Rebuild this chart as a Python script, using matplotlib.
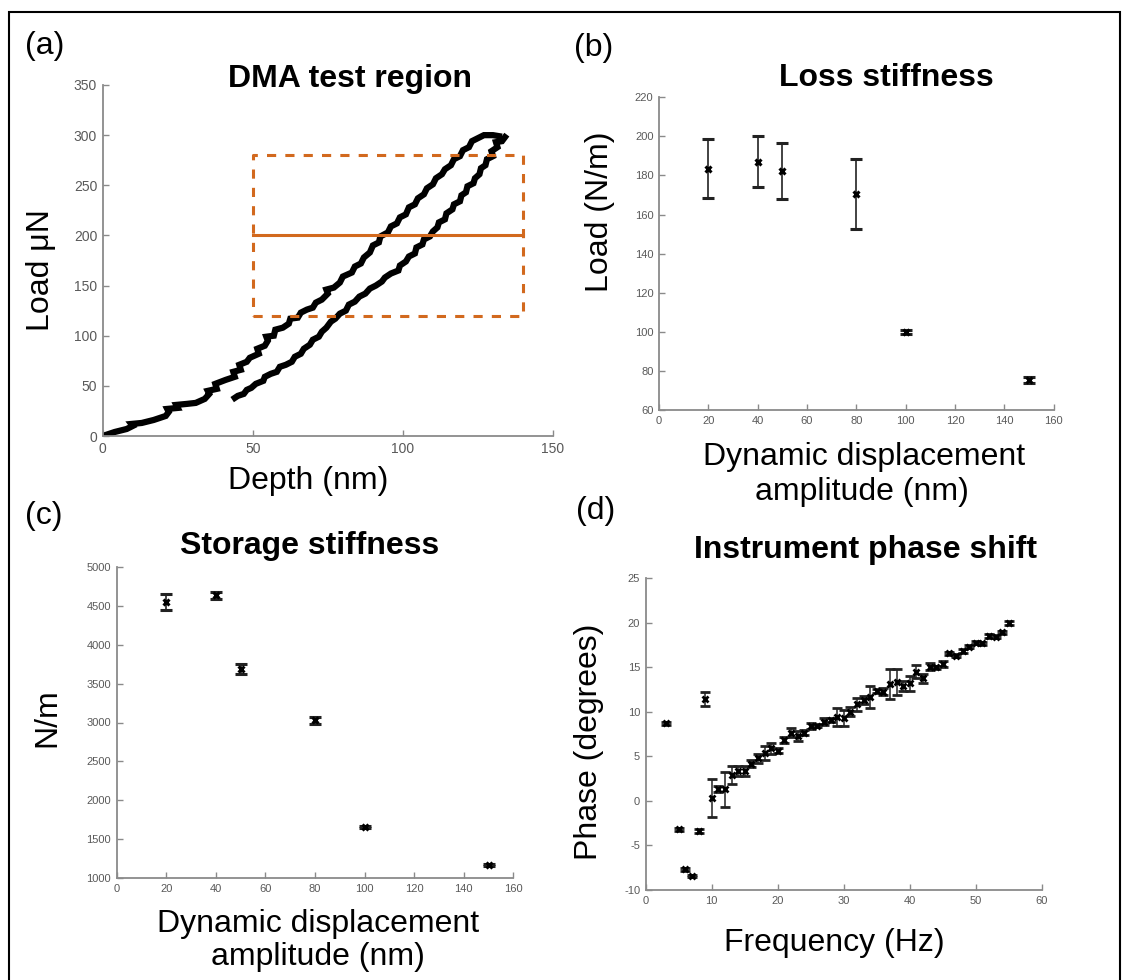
import matplotlib
matplotlib.use("Agg")
import matplotlib.pyplot as plt
from matplotlib.patches import Rectangle

plt.rcParams['font.family'] = ['Liberation Sans', 'DejaVu Sans']
plt.rcParams['axes.unicode_minus'] = False

# ---------------- data ----------------
# (a) load-depth curve
load_depth = [0, 4, 8, 10, 9.5, 13, 17, 21, 22, 21.5, 25, 24.5, 28, 31, 34, 35.5, 35, 38, 37.5, 41,
              44, 43.5, 46, 45.5, 48, 49, 52, 51.5, 54, 55, 54.5, 57, 57.5, 60, 62, 62.5, 65, 66, 68,
              70, 71, 73, 75, 74.5, 77, 79, 80, 83, 84, 86, 87, 89, 90, 92, 92.5, 95, 96, 98, 99,
              101, 102, 104, 105, 107, 108, 110, 111, 113, 114, 116, 117, 119, 120, 122, 123, 125,
              127, 130, 132]
load_force = [0, 4, 7, 10, 12, 13, 16, 20, 24, 27, 28, 31, 32, 33, 37, 42, 45, 47, 52, 56,
              59, 64, 66, 71, 74, 78, 82, 87, 90, 95, 99, 100, 106, 108, 112, 117, 118, 123, 126,
              128, 133, 136, 142, 146, 148, 153, 159, 163, 169, 172, 178, 183, 190, 193, 199, 203,
              209, 212, 218, 221, 228, 231, 237, 241, 247, 251, 257, 261, 266, 270, 276, 279, 285,
              288, 294, 297, 300, 300, 299]
unload_depth = [134, 133, 131, 131.5, 129.5, 130, 128, 127.5, 126, 125.5, 124, 123.5, 121.5, 121,
                119.5, 119, 117, 116.5, 114.5, 114, 112, 111.5, 110, 109, 107, 106.5, 104.5, 104,
                102, 101, 99, 98.5, 96, 94, 93, 91, 89, 87.5, 85.5, 84, 82, 81, 79, 77.5, 76, 74.5,
                73, 72, 70, 69, 67, 66, 64, 63, 61, 59, 58, 56, 54, 53.5, 51, 49.5, 48, 47, 45, 44]
unload_force = [298, 294, 293, 288, 284, 279, 276, 270, 267, 261, 257, 252, 249, 243, 240, 234,
                231, 226, 222, 216, 213, 208, 204, 199, 196, 191, 188, 182, 179, 174, 170, 165,
                162, 158, 154, 150, 147, 142, 139, 134, 131, 125, 122, 117, 114, 108, 104, 99, 96,
                91, 87, 82, 79, 74, 71, 69, 64, 62, 59, 55, 52, 48, 46, 42, 40, 38]
region_depth = [50, 140]
region_load = [120, 280]
mid_load = 200

# (b) loss stiffness
amp = [20, 40, 50, 80, 100, 150]
loss = [183.5, 187.0, 182.3, 170.5, 100.1, 75.4]
loss_err = [15.0, 13.0, 14.3, 18.0, 1.0, 1.5]

# (c) storage stiffness
storage = [4545, 4632, 3687, 3032, 1659, 1171]
storage_err = [100, 45, 58, 45, 15, 15]

# (d) instrument phase shift
freq = [3, 5, 6, 7, 8, 9, 10, 11, 12, 13, 14, 15, 16, 17, 18, 19, 20, 21, 22, 23, 24, 25, 26,
        27, 28, 29, 30, 31, 32, 33, 34, 35, 36, 37, 38, 39, 40, 41, 42, 43, 44, 45, 46, 47, 48,
        49, 50, 51, 52, 53, 54, 55]
phase = [8.71, -3.19, -7.68, -8.43, -3.38, 11.45, 0.37, 1.34, 1.30, 2.91, 3.36, 3.36, 4.18,
         4.78, 5.42, 5.90, 5.64, 6.84, 7.67, 7.29, 7.67, 8.41, 8.45, 8.90, 9.09, 9.46, 9.27,
         10.02, 10.85, 11.33, 11.71, 12.35, 12.27, 13.13, 13.39, 12.90, 13.20, 14.52, 13.77,
         15.08, 15.00, 15.38, 16.58, 16.31, 16.84, 17.33, 17.77, 17.70, 18.52, 18.45, 18.93, 19.95]
phase_err = [0.15, 0.15, 0.15, 0.15, 0.2, 0.75, 2.15, 0.3, 2.0, 1.05, 0.56, 0.56, 0.4, 0.5,
             0.8, 0.6, 0.3, 0.3, 0.5, 0.6, 0.3, 0.3, 0.2, 0.4, 0.2, 1.0, 0.9, 0.5, 0.7, 0.5,
             1.25, 0.2, 0.4, 1.7, 1.45, 0.6, 0.8, 0.7, 0.5, 0.4, 0.2, 0.3, 0.2, 0.2, 0.2, 0.2,
             0.2, 0.2, 0.2, 0.2, 0.2, 0.2]

# ---------------- figure ----------------
W, H = 1125, 980
fig = plt.figure(figsize=(W / 100, H / 100), dpi=100)


def ax_px(x0, x1, ytop, ybot):
    return fig.add_axes([x0 / W, 1 - ybot / H, (x1 - x0) / W, (ybot - ytop) / H])


def txt(x, y, s, **kw):
    fig.text(x / W, 1 - y / H, s, **kw)


SPINE = '#8a8a8a'
TICKC = '#595959'
ORANGE = '#D2691E'


def style(ax, fs):
    for s in ['top', 'right']:
        ax.spines[s].set_visible(False)
    for s in ['left', 'bottom']:
        ax.spines[s].set_color(SPINE)
        ax.spines[s].set_linewidth(1.3)
    ax.tick_params(direction='in', length=4, width=1.0, color=SPINE,
                   labelsize=fs, labelcolor=TICKC, pad=4)


# (a)
axa = ax_px(102.7, 553, 85, 436)
axa.plot(load_depth, load_force, color='black', lw=4.5, solid_joinstyle='miter')
axa.plot(unload_depth, unload_force, color='black', lw=4.5, solid_joinstyle='miter')
axa.plot([region_depth[0], region_depth[1], region_depth[1], region_depth[0], region_depth[0]],
         [region_load[0], region_load[0], region_load[1], region_load[1], region_load[0]],
         color=ORANGE, lw=2.2, ls=(0, (3, 3)))
axa.plot(region_depth, [mid_load, mid_load], color=ORANGE, lw=2.2)
axa.set_xlim(0, 150)
axa.set_ylim(0, 350)
axa.set_xticks([0, 50, 100, 150])
axa.set_yticks(range(0, 351, 50))
style(axa, 10)

# (b)
axb = ax_px(659, 1053.6, 97.3, 410)
axb.errorbar(amp, loss, yerr=loss_err, fmt='x', color='black', ms=5, mew=2.2,
             ecolor='#222222', elinewidth=1.2, capsize=4, capthick=1.2)
axb.set_xlim(0, 160)
axb.set_ylim(60, 220)
axb.set_xticks(range(0, 161, 20))
axb.set_yticks(range(60, 221, 20))
style(axb, 8)

# (c)
axc = ax_px(116.7, 513.3, 566.7, 878.3)
axc.errorbar(amp, storage, yerr=storage_err, fmt='x', color='black', ms=5, mew=2.2,
             ecolor='#222222', elinewidth=1.2, capsize=4, capthick=1.2)
axc.set_xlim(0, 160)
axc.set_ylim(1000, 5000)
axc.set_xticks(range(0, 161, 20))
axc.set_yticks(range(1000, 5001, 500))
style(axc, 8)

# (d)
axd = ax_px(645.7, 1041.7, 578.3, 890)
axd.errorbar(freq, phase, yerr=phase_err, fmt='x', color='black', ms=4.5, mew=2.0,
             ecolor='#222222', elinewidth=1.1, capsize=3.5, capthick=1.1)
axd.set_xlim(0, 60)
axd.set_ylim(-10, 25)
axd.set_xticks(range(0, 61, 10))
axd.set_yticks(range(-10, 26, 5))
style(axd, 8)

FS = 23
# panel letters
txt(25, 46, '(a)', fontsize=FS, ha='left', va='center')
txt(574, 48, '(b)', fontsize=FS, ha='left', va='center')
txt(25, 516, '(c)', fontsize=FS, ha='left', va='center')
txt(576, 511, '(d)', fontsize=FS, ha='left', va='center')

# titles
txt(350, 87, 'DMA test region', fontsize=FS, fontweight='bold', ha='center', va='baseline')
txt(886, 86, 'Loss stiffness', fontsize=FS, fontweight='bold', ha='center', va='baseline')
txt(310, 554, 'Storage stiffness', fontsize=FS, fontweight='bold', ha='center', va='baseline')
txt(866, 558, 'Instrument phase shift', fontsize=FS, fontweight='bold', ha='center', va='baseline')

# axis labels
txt(308, 481, 'Depth (nm)', fontsize=FS, ha='center', va='center')
txt(41, 270, 'Load μN', fontsize=FS, ha='center', va='center', rotation=90)
txt(864, 465, 'Dynamic displacement', fontsize=FS, ha='center', va='baseline')
txt(862, 500, 'amplitude (nm)', fontsize=FS, ha='center', va='baseline')
txt(600, 212, 'Load (N/m)', fontsize=FS, ha='center', va='center', rotation=90)
txt(318, 932, 'Dynamic displacement', fontsize=FS, ha='center', va='baseline')
txt(318, 965, 'amplitude (nm)', fontsize=FS, ha='center', va='baseline')
txt(47, 718, 'N/m', fontsize=FS, ha='center', va='center', rotation=90)
txt(834, 943, 'Frequency (Hz)', fontsize=FS, ha='center', va='center')
txt(589, 742, 'Phase (degrees)', fontsize=FS, ha='center', va='center', rotation=90)

# outer frame
fig.patches.append(Rectangle((9 / W, -0.01), (1120 - 9) / W, 1 - 12 / H + 0.01,
                             transform=fig.transFigure, fill=False, edgecolor='black', lw=1.5))

fig.savefig('out.png', dpi=100)
